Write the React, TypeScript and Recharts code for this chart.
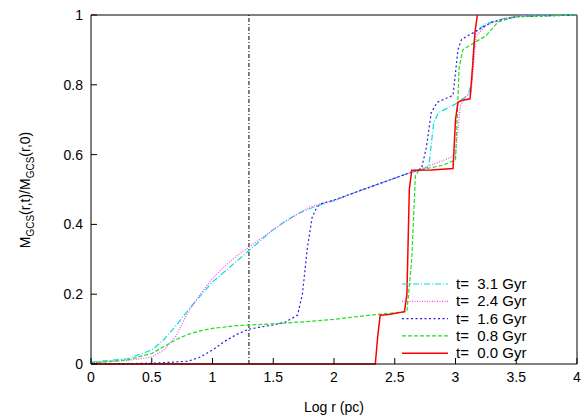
import { LineChart, Line, XAxis, YAxis, ReferenceLine } from 'recharts';

const xTicks = [0, 0.5, 1, 1.5, 2, 2.5, 3, 3.5, 4];
const yTicks = [0, 0.2, 0.4, 0.6, 0.8, 1];

const labels = ['t=\u00a0\u00a03.1 Gyr', 't=\u00a0\u00a02.4 Gyr', 't=\u00a0\u00a01.6 Gyr', 't=\u00a0\u00a00.8 Gyr', 't=\u00a0\u00a00.0 Gyr'];
const colors = ['#00e0e0', '#ff40ff', '#2020e0', '#20e020', '#ff0000'];
const dashes = ['6 2 1 2', '1 1.5', '2 2.5', '4 2', undefined];

const r31 = [0, 0.3, 0.5, 0.6, 0.7, 0.8, 0.9, 1.0, 1.1, 1.2, 1.3, 1.4, 1.5, 1.6, 1.7, 1.8, 1.9, 2.0, 2.2, 2.4, 2.6, 2.7, 2.78, 2.82, 2.86, 3.0, 3.1, 3.13, 3.16, 3.25, 3.4, 3.6, 4];
const m31 = [0.005, 0.015, 0.04, 0.07, 0.11, 0.155, 0.195, 0.235, 0.265, 0.295, 0.325, 0.355, 0.385, 0.41, 0.43, 0.445, 0.458, 0.468, 0.495, 0.52, 0.545, 0.555, 0.565, 0.69, 0.72, 0.745, 0.77, 0.8, 0.95, 0.975, 0.99, 1.0, 1.0];

const r24 = [0, 0.3, 0.5, 0.6, 0.7, 0.8, 0.9, 1.0, 1.1, 1.2, 1.3, 1.5, 1.7, 1.8, 1.9, 2.0, 2.2, 2.4, 2.6, 2.8, 2.95, 3.0, 3.04, 3.08, 3.13, 3.17, 3.25, 3.4, 3.6, 4];
const m24 = [0.003, 0.01, 0.02, 0.04, 0.08, 0.15, 0.2, 0.245, 0.28, 0.31, 0.335, 0.385, 0.43, 0.45, 0.46, 0.468, 0.495, 0.52, 0.545, 0.57, 0.59, 0.6, 0.74, 0.765, 0.78, 0.94, 0.97, 0.99, 1.0, 1.0];

const r16 = [0, 0.5, 0.8, 0.9, 1.0, 1.1, 1.2, 1.3, 1.5, 1.6, 1.7, 1.74, 1.78, 1.82, 1.86, 1.9, 2.0, 2.2, 2.4, 2.6, 2.72, 2.76, 2.8, 2.85, 2.98, 3.02, 3.05, 3.2, 3.3, 3.5, 4];
const m16 = [0, 0.002, 0.008, 0.02, 0.04, 0.065, 0.085, 0.1, 0.112, 0.12, 0.14, 0.2, 0.33, 0.42, 0.45, 0.46, 0.47, 0.495, 0.52, 0.545, 0.56, 0.62, 0.72, 0.75, 0.77, 0.9, 0.93, 0.96, 0.98, 0.995, 1.0];

const r08 = [0, 0.3, 0.5, 0.6, 0.7, 0.8, 0.9, 1.0, 1.2, 1.5, 1.8, 2.0, 2.3, 2.6, 2.64, 2.67, 2.7, 2.9, 3.0, 3.03, 3.06, 3.15, 3.25, 3.35, 3.5, 4];
const m08 = [0.003, 0.012, 0.03, 0.05, 0.07, 0.085, 0.095, 0.102, 0.11, 0.115, 0.122, 0.128, 0.14, 0.15, 0.3, 0.54, 0.555, 0.57, 0.585, 0.85, 0.9, 0.92, 0.94, 0.98, 0.995, 1.0];

const r00 = [0, 2.34, 2.36, 2.38, 2.45, 2.58, 2.6, 2.62, 2.64, 2.8, 2.98, 3.0, 3.02, 3.05, 3.12, 3.14, 3.16, 3.18];
const m00 = [0, 0, 0.08, 0.14, 0.142, 0.15, 0.2, 0.5, 0.555, 0.556, 0.56, 0.7, 0.75, 0.755, 0.76, 0.85, 0.95, 1.0];

const series = [r31, r24, r16, r08, r00].map((rs, i) =>
  rs.map((r, j) => ({ r, m: [m31, m24, m16, m08, m00][i][j] }))
);

const font = 'Liberation Sans, Arial, sans-serif';

const LegendBox = () => (
  <svg width={170} height={95} style={{ position: 'absolute', left: 392, top: 276 }}>
    {labels.map((l, i) => (
      <g key={l}>
        <line x1={10} x2={56} y1={8 + i * 17.3} y2={8 + i * 17.3} stroke={colors[i]}
          strokeWidth={i === 4 ? 1.5 : 1.2} strokeDasharray={dashes[i]} />
        <text x={64} y={13 + i * 17.3} fontSize={15} fontFamily={font} fill="#000">{l}</text>
      </g>
    ))}
  </svg>
);

export default function App() {
  return (
    <div style={{ position: 'absolute', left: 0, top: 0, width: 585, height: 416, background: '#fff' }}>
      <LineChart width={585} height={416} margin={{ top: 15, right: 8, left: 0, bottom: 0 }}
        style={{ fontFamily: font }}>
        <XAxis type="number" dataKey="r" domain={[0, 4]} ticks={xTicks} height={52}
          allowDuplicatedCategory={false} tickSize={-6} tickMargin={14}
          tick={{ fill: '#000', fontSize: 14 }} stroke="#000"
          tickFormatter={(v) => String(v)}
          label={{ value: 'Log r (pc)', position: 'insideBottom', offset: 4, fill: '#000', fontSize: 14 }} />
        <YAxis type="number" domain={[0, 1]} ticks={yTicks} width={91} tickSize={-6} tickMargin={14}
          tick={{ fill: '#000', fontSize: 14 }} stroke="#000" tickFormatter={(v) => String(v)}
          label={() => (
            <text x={0} y={0} transform="translate(30,190) rotate(-90)" textAnchor="middle"
              fontSize={14} fontFamily={font} fill="#000">
              M<tspan fontSize={10} dy={4}>GCS</tspan><tspan dy={-4}>(r,t)/M</tspan>
              <tspan fontSize={10} dy={4}>GCS</tspan><tspan dy={-4}>(r,0)</tspan>
            </text>
          )} />
        <ReferenceLine y={1} stroke="#000" />
        <ReferenceLine x={4} stroke="#000" />
        <ReferenceLine x={1.3} stroke="#000" strokeDasharray="4 2 1 2" />
        {series.map((d, i) => (
          <Line key={labels[i]} data={d} dataKey="m" type="linear" dot={false}
            stroke={colors[i]} strokeWidth={i === 4 ? 1.5 : 1.2} strokeDasharray={dashes[i]}
            isAnimationActive={false} />
        ))}
      </LineChart>
      <LegendBox />
    </div>
  );
}
